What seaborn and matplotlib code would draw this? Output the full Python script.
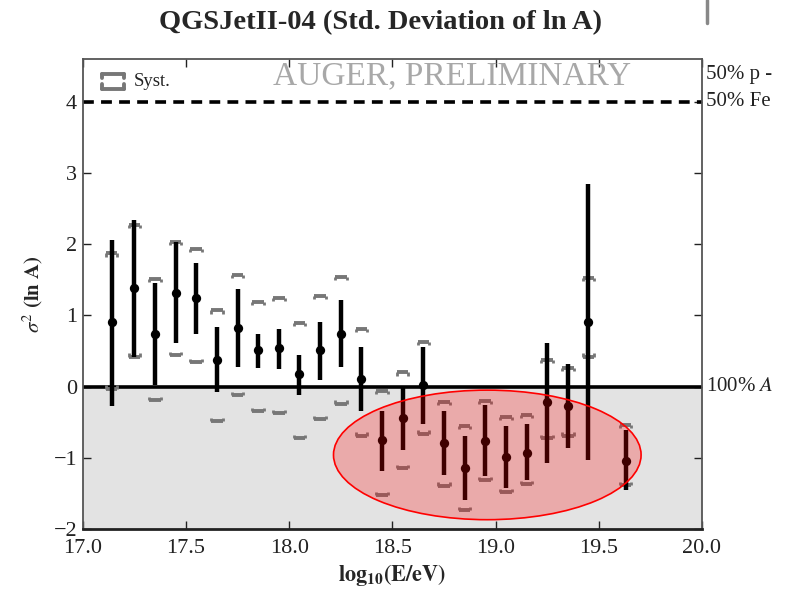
import numpy as np
import pandas as pd
import seaborn as sns
import matplotlib
matplotlib.use("Agg")
import matplotlib.pyplot as plt
from matplotlib.patches import Ellipse
from matplotlib.lines import Line2D

# log10(E/eV) bin centres
log_e = [17.14, 17.25, 17.35, 17.45, 17.55, 17.65, 17.75, 17.85, 17.95, 18.05,
         18.15, 18.25, 18.35, 18.45, 18.55, 18.65, 18.75, 18.85, 18.95, 19.05,
         19.15, 19.25, 19.35, 19.45, 19.63]
# sigma^2(ln A) with statistical and systematic bounds
sigma2 = [0.90, 1.38, 0.74, 1.32, 1.24, 0.38, 0.82, 0.52, 0.54, 0.18,
          0.52, 0.74, 0.11, -0.75, -0.44, 0.02, -0.79, -1.15, -0.77, -0.99,
          -0.93, -0.22, -0.28, 0.91, -1.04]
stat_hi = [2.06, 2.34, 1.46, 2.03, 1.73, 0.83, 1.37, 0.74, 0.81, 0.44,
           0.91, 1.21, 0.56, -0.34, 0.00, 0.55, -0.35, -0.70, -0.26, -0.55,
           -0.52, 0.61, 0.31, 2.84, -0.61]
stat_lo = [-0.28, 0.42, 0.02, 0.61, 0.74, -0.08, 0.28, 0.26, 0.24, -0.12,
           0.09, 0.28, -0.34, -1.19, -0.89, -0.52, -1.24, -1.59, -1.26, -1.43,
           -1.31, -1.07, -0.86, -1.03, -1.45]
sys_hi = [1.87, 2.27, 1.51, 2.03, 1.93, 1.07, 1.57, 1.19, 1.24, 0.89,
          1.27, 1.54, 0.81, -0.06, 0.20, 0.63, -0.22, -0.55, -0.20, -0.43,
          -0.40, 0.375, 0.26, 1.53, -0.54]
sys_lo = [-0.03, 0.42, -0.19, 0.44, 0.34, -0.49, -0.12, -0.35, -0.37, -0.72,
          -0.46, -0.24, -0.69, -1.52, -1.15, -0.66, -1.39, -1.73, -1.31, -1.48,
          -1.37, -0.72, -0.69, 0.42, -1.38]

# reference levels
pure_level = 0.0
mix_level = 4.0
x_ticks = [17.0, 17.5, 18.0, 18.5, 19.0, 19.5, 20.0]
y_ticks = [-2, -1, 0, 1, 2, 3, 4]

# highlighted region (centre, width, height)
ell_center = (18.96, -0.96)
ell_width = 1.49
ell_height = 1.82

df = pd.DataFrame({"log_e": log_e, "sigma2": sigma2,
                   "stat_hi": stat_hi, "stat_lo": stat_lo,
                   "sys_hi": sys_hi, "sys_lo": sys_lo})

sns.set_theme(style="ticks")
plt.rcParams["font.family"] = ["Liberation Serif", "DejaVu Serif"]
plt.rcParams["mathtext.fontset"] = "stix"

fig = plt.figure(figsize=(7.95, 5.97), dpi=100)
ax = fig.add_axes([0.104, 0.114, 0.779, 0.787])

ax.set_xlim(17.0, 20.0)
ax.set_ylim(-2.0, 4.6)

# shaded unphysical region below zero
ax.axhspan(-2.0, pure_level, color="#e3e3e3", zorder=0, lw=0)
ax.axhline(pure_level, color="black", lw=2.6, zorder=2)
ax.axhline(mix_level, color="black", lw=2.6, ls=(0, (3, 2)), zorder=2)

# systematic brackets
bw = 0.028
tick = 0.045
sys_color = "#777777"
ax.hlines(df["sys_hi"], df["log_e"] - bw, df["log_e"] + bw, color=sys_color, lw=2.8, zorder=3)
ax.hlines(df["sys_lo"], df["log_e"] - bw, df["log_e"] + bw, color=sys_color, lw=2.8, zorder=3)
for side in (-1, 1):
    ax.vlines(df["log_e"] + side * bw, df["sys_hi"] - tick, df["sys_hi"], color=sys_color, lw=2.0, zorder=3)
    ax.vlines(df["log_e"] + side * bw, df["sys_lo"], df["sys_lo"] + tick, color=sys_color, lw=2.0, zorder=3)

# statistical error bars and points
ax.vlines(df["log_e"], df["stat_lo"], df["stat_hi"], color="black", lw=3.2, zorder=4)
sns.scatterplot(data=df, x="log_e", y="sigma2", ax=ax, color="black", s=45,
                edgecolor="black", linewidth=0, zorder=5, legend=False)

# highlighted ellipse
ell = Ellipse(ell_center, ell_width, ell_height, facecolor=(1.0, 0.0, 0.0, 0.25),
              edgecolor="red", lw=1.2, zorder=6)
ax.add_patch(ell)

ax.set_xticks(x_ticks)
ax.set_xticklabels([f"{t:.1f}" for t in x_ticks])
ax.set_yticks(y_ticks)
ax.set_yticklabels([f"{t}" if t >= 0 else f"\u2212{abs(t)}" for t in y_ticks])
ax.tick_params(direction="in", length=6, width=1.0, top=True, right=True,
               labelsize=16, colors="#222222")
ax.tick_params(axis="x", pad=7)
ax.tick_params(axis="y", pad=4)
for sp in ax.spines.values():
    sp.set_color("#555555")
    sp.set_linewidth(1.3)
ax.spines["bottom"].set_color("#222222")
ax.spines["bottom"].set_linewidth(2.0)

ax.set_xlabel(r"$\mathbf{log_{10}(E/eV)}$", fontsize=16, labelpad=3)
ax.set_ylabel(r"$\sigma^2$ $\mathbf{(ln\ A)}$", fontsize=15, labelpad=6)

fig.text(0.479, 0.962, "QGSJetII-04 (Std. Deviation of ln A)", ha="center", va="center",
         fontsize=20.5, fontweight="bold")

ax.text(18.79, 4.36, "AUGER, PRELIMINARY", color="#a8a8a8", fontsize=24,
        ha="center", va="center", zorder=7)

# "Syst." key
ik = dict(color=sys_color, lw=2.8, transform=ax.transAxes, clip_on=False, zorder=7)
x0, x1 = 0.031, 0.066
yt, yb = 0.969, 0.937
ax.add_line(Line2D([x0, x1], [yt, yt], **ik))
ax.add_line(Line2D([x0, x1], [yb, yb], **ik))
for xx in (x0, x1):
    ax.add_line(Line2D([xx, xx], [yt, yt - 0.01], **ik))
    ax.add_line(Line2D([xx, xx], [yb, yb + 0.01], **ik))
ax.text(0.083, 0.953, "Syst.", transform=ax.transAxes, fontsize=13.5,
        ha="left", va="center", color="#222222")

# composition labels on the right edge
ax.text(1.006, mix_level + 0.39, "50% p -", transform=ax.get_yaxis_transform(),
        fontsize=15, ha="left", va="center", color="#222222")
ax.text(1.006, mix_level, "50% Fe", transform=ax.get_yaxis_transform(),
        fontsize=15, ha="left", va="center", color="#222222")
ax.text(1.006, pure_level, r"100% $A$", transform=ax.get_yaxis_transform(),
        fontsize=15, ha="left", va="center", color="#222222")

fig.add_artist(Line2D([0.889, 0.889], [1.0, 0.962], color="#888888", lw=2.5))

fig.savefig("out.png", dpi=100)
